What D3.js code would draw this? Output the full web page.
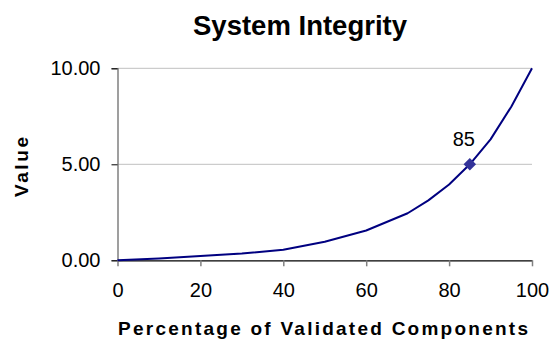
<!DOCTYPE html>
<html>
<head>
<meta charset="utf-8">
<script src="https://cdn.jsdelivr.net/npm/d3@7"></script>
<style>
  body { margin: 0; background: #fff; }
  text { font-family: Arial, "Liberation Sans", sans-serif; }
</style>
</head>
<body>
<div id="chart"></div>
<script>
var width = 553;
var height = 345;

// data
var percent = [0, 10, 20, 30, 40, 50, 60, 70, 75, 80, 85, 90, 95, 100];
var values = [0, 0.1, 0.22, 0.35, 0.55, 0.97, 1.55, 2.45, 3.12, 3.95, 5.0, 6.3, 8.0, 10.0];
var xTicks = [0, 20, 40, 60, 80, 100];
var yTicks = [0, 5, 10];
var marked = { x: 85, y: 5.0, label: "85" };

var x = d3.scaleLinear().domain([0, 100]).range([117.5, 532]);
var y = d3.scaleLinear().domain([0, 10]).range([260.3, 68.3]);

var svg = d3.select("#chart")
    .append("svg")
    .attr("width", width)
    .attr("height", height)

// gridlines
svg.selectAll("line.grid")
    .data(yTicks.filter(function(d){ return d > 0; }))
    .enter()
    .append("line")
    .attr("class", "grid")
    .attr("x1", x(0))
    .attr("x2", x(100))
    .attr("y1", function(d){ return y(d); })
    .attr("y2", function(d){ return y(d); })
    .attr("stroke", "#c0c0c0")
    .attr("stroke-width", 1)

// y axis
var yAxis = svg.append("g")
    .attr("transform", "translate(" + x(0) + ",0)")
    .call(d3.axisLeft(y).tickValues(yTicks).tickSize(6).tickPadding(11).tickFormat(d3.format(".2f")))
yAxis.select(".domain").attr("stroke", "#808080").attr("stroke-width", 1.5)
yAxis.selectAll(".tick line").attr("stroke", "#000")
yAxis.selectAll(".tick text")
    .attr("font-size", "20px")
    .attr("fill", "#000")
    .attr("font-family", "Arial, 'Liberation Sans', sans-serif")

// x axis
var xAxis = svg.append("g")
    .attr("transform", "translate(0," + y(0) + ")")
    .call(d3.axisBottom(x).tickValues(xTicks).tickSize(6).tickPadding(17).tickSizeOuter(0))
xAxis.select(".domain").attr("stroke", "#000").attr("stroke-width", 1.2)
xAxis.selectAll(".tick line").attr("stroke", "#808080").attr("stroke-width", 1.5)
xAxis.selectAll(".tick text")
    .attr("font-size", "20px")
    .attr("fill", "#000")
    .attr("font-family", "Arial, 'Liberation Sans', sans-serif")

// the curve
var line = d3.line()
    .x(function(d, i){ return x(percent[i]); })
    .y(function(d){ return y(d); })

svg.append("path")
    .datum(values)
    .attr("d", line)
    .attr("fill", "none")
    .attr("stroke", "#000080")
    .attr("stroke-width", 2)
    .attr("stroke-linejoin", "round")

// marked point
svg.append("path")
    .attr("d", d3.symbol().type(d3.symbolDiamond2).size(100))
    .attr("transform", "translate(" + x(marked.x) + "," + y(marked.y) + ")")
    .attr("fill", "#333399")

svg.append("text")
    .text(marked.label)
    .attr("x", x(marked.x) - 6)
    .attr("y", y(marked.y) - 18)
    .attr("text-anchor", "middle")
    .attr("font-size", "20px")
    .attr("fill", "#000")

// titles
svg.append("text")
    .text("System Integrity")
    .attr("x", 300)
    .attr("y", 35)
    .attr("text-anchor", "middle")
    .attr("font-size", "27px")
    .attr("font-weight", "bold")
    .attr("textLength", 214)
    .attr("lengthAdjust", "spacingAndGlyphs")

svg.append("text")
    .text("Percentage of Validated Components")
    .attr("x", 323)
    .attr("y", 335)
    .attr("text-anchor", "middle")
    .attr("font-size", "19px")
    .attr("font-weight", "bold")
    .attr("textLength", 410)
    .attr("lengthAdjust", "spacing")

svg.append("text")
    .text("Value")
    .attr("transform", "translate(28,167) rotate(-90)")
    .attr("text-anchor", "middle")
    .attr("font-size", "19px")
    .attr("font-weight", "bold")
    .attr("textLength", 60)
    .attr("lengthAdjust", "spacing")
</script>
</body>
</html>
